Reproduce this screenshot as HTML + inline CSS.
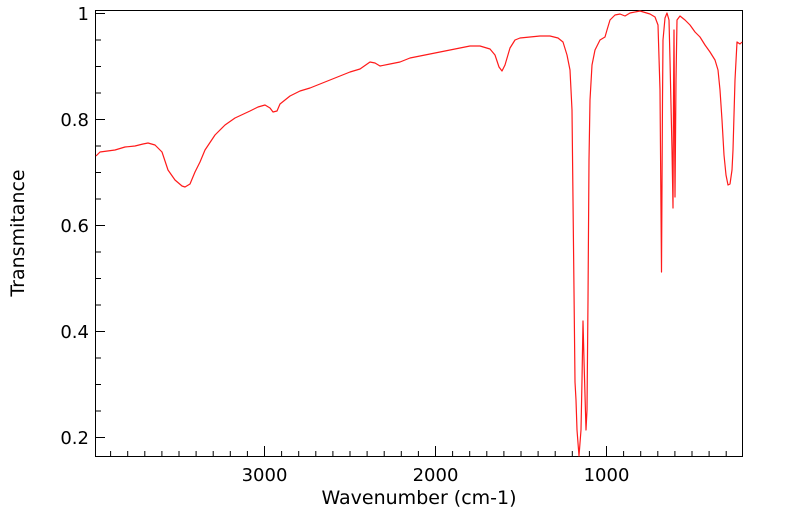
<!DOCTYPE html>
<html><head><style>
body{margin:0;background:#fff;width:799px;height:516px;overflow:hidden}
text{font-family:"DejaVu Sans","Liberation Sans",sans-serif;font-size:18px;fill:#000}
</style></head><body>
<svg width="799" height="516" xmlns="http://www.w3.org/2000/svg">
<rect x="95.5" y="10.5" width="647" height="446" fill="none" stroke="#000" stroke-width="1"/>
<g stroke="#000" stroke-width="1">
<line x1="95" y1="13.5" x2="105" y2="13.5"/>
<line x1="95" y1="40" x2="101" y2="40"/>
<line x1="95" y1="66.5" x2="101" y2="66.5"/>
<line x1="95" y1="93" x2="101" y2="93"/>
<line x1="95" y1="119.5" x2="105" y2="119.5"/>
<line x1="95" y1="146" x2="101" y2="146"/>
<line x1="95" y1="172.5" x2="101" y2="172.5"/>
<line x1="95" y1="199" x2="101" y2="199"/>
<line x1="95" y1="225.5" x2="105" y2="225.5"/>
<line x1="95" y1="252" x2="101" y2="252"/>
<line x1="95" y1="278.5" x2="101" y2="278.5"/>
<line x1="95" y1="305" x2="101" y2="305"/>
<line x1="95" y1="331.5" x2="105" y2="331.5"/>
<line x1="95" y1="358" x2="101" y2="358"/>
<line x1="95" y1="384.5" x2="101" y2="384.5"/>
<line x1="95" y1="411" x2="101" y2="411"/>
<line x1="95" y1="437.5" x2="105" y2="437.5"/>
</g>
<g id="xt" stroke="#000" stroke-width="1"></g>
<g>
<text x="89" y="20" text-anchor="end">1</text>
<text x="89" y="126" text-anchor="end">0.8</text>
<text x="89" y="232" text-anchor="end">0.6</text>
<text x="89" y="338" text-anchor="end">0.4</text>
<text x="89" y="444" text-anchor="end">0.2</text>
<text x="264.5" y="481" text-anchor="middle">3000</text>
<text x="435.5" y="481" text-anchor="middle">2000</text>
<text x="606.5" y="481" text-anchor="middle">1000</text>
<text x="419" y="504" text-anchor="middle" style="font-size:19px">Wavenumber (cm-1)</text>
<text transform="translate(24,233) rotate(-90)" text-anchor="middle" style="font-size:19px">Transmitance</text>
</g>
<polyline fill="none" stroke="#ff1a1a" stroke-width="1.2" stroke-linejoin="round" points="96,156 100,152 115,150 125,147 135,146 143,144 148,143 155,145 162,152 168,170 175,180 182,186 185,187 190,184 195,172 200,162 205,150 215,135 225,125 235,118 250,111 258,107 265,105 270,108 273,112 277,111 280,104 285,100 290,96 300,91 310,88 320,84 330,80 340,76 350,72 360,69 370,62 375,63 380,66 390,64 400,62 410,58 420,56 430,54 440,52 450,50 460,48 470,46 480,46 490,49 495,55 499,67 502,71 505,65 510,48 515,40 520,38 530,37 540,36 550,36 558,38 563,42 567,55 570,70 572,110 573,200 575,382 576,400 577,430 579,456 581,430 582,380 583,321 584,360 586,430 587,410 588,300 589,160 590,100 592,65 595,50 600,40 605,37 607,30 610,20 615,15 620,14 625,16 630,13 640,11 650,14 655,17 658,25 660,90 661.5,272 662.5,100 663,40 665,18 667,13 669,20 670,60 672,150 673,208 673.5,100 674,30 675,197 676,80 677,20 680,16 685,20 690,25 695,32 700,37 705,45 710,52 715,60 718,70 720,90 722,120 724,155 726,175 728,185 730,184 732,170 733,150 735,80 737,42 740,44 742,42"/>
</svg>
<script>
var g=document.getElementById('xt'),s='';
for(var v=3900;v>200;v-=100){var x=264.5+(3000-v)*0.171;var h=(v%1000==0)?10:5;s+='<line x1="'+x+'" y1="456" x2="'+x+'" y2="'+(456-h)+'"/>';}
g.innerHTML=s;
</script>
</body></html>
